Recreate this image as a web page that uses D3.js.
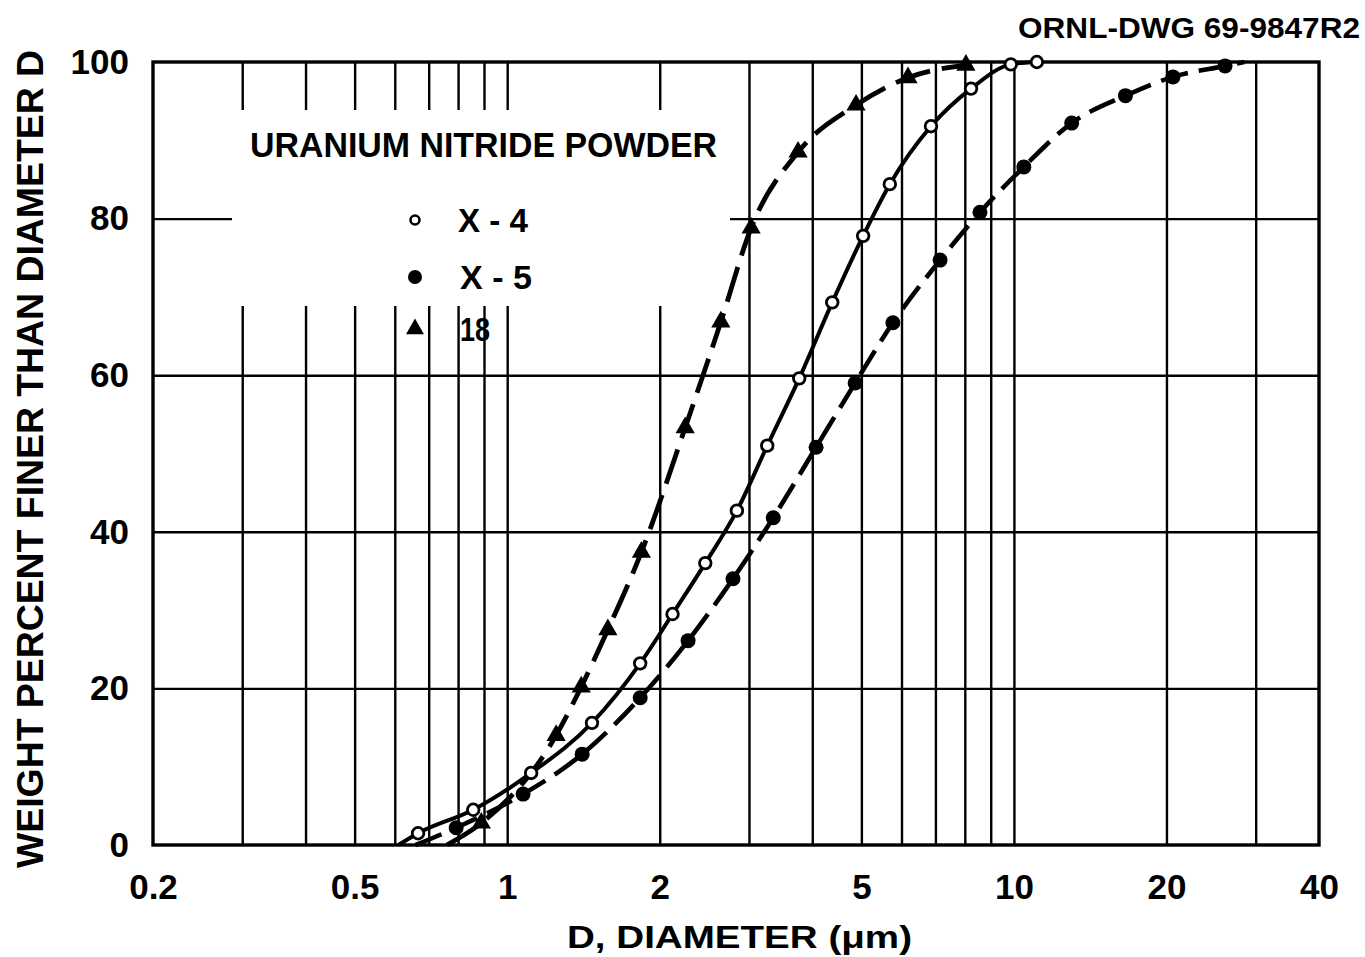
<!DOCTYPE html>
<html><head><meta charset="utf-8">
<script src="https://cdn.jsdelivr.net/npm/d3@7"></script>
<style>
html,body{margin:0;padding:0;background:#fff;}
svg{display:block;}
text{font-family:"Liberation Sans",Arial,sans-serif;font-weight:bold;fill:#000;}
</style></head>
<body>
<svg id="c" width="1365" height="957"></svg>
<script>
// ---- data ----
const xTickLabels = [0.2, 0.5, 1, 2, 5, 10, 20, 40];
const yTickLabels = [0, 20, 40, 60, 80, 100];
const xGrid = [0.3,0.4,0.5,0.6,0.7,0.8,0.9,1,2,3,4,5,6,7,8,9,10,20,30];
const yGrid = [20,40,60,80];

// X-4 (open circles)
const x4D = [0.667,0.857,1.115,1.47,1.83,2.12,2.46,2.84,3.26,3.77,4.38,5.04,5.69,6.86,8.23,9.86,11.1];
const x4W = [1.5,4.5,9.2,15.6,23.2,29.5,36.0,42.7,51.0,59.6,69.3,77.8,84.4,91.8,96.6,99.7,100];
const x4Start = [0.61, 0];

// X-5 (filled circles)
const x5D = [0.793,1.075,1.406,1.83,2.275,2.79,3.35,4.07,4.86,5.77,7.15,8.57,10.46,13.0,16.6,20.6,26.1];
const x5W = [2.2,6.5,11.6,18.8,26.1,34.0,41.8,50.8,59.0,66.7,74.7,80.8,86.6,92.2,95.7,98.1,99.5];
const x5Start = [0.66, 0];
const x5End = [28.5, 100];

// 18 (triangles)
const s18D = [0.889,1.249,1.40,1.58,1.84,2.245,2.64,3.03,3.75,4.88,6.18,8.04];
const s18W = [2.8,14.0,20.2,27.5,37.4,53.3,66.8,78.8,88.5,94.5,98.0,99.6];
const s18Start = [0.76, 0];

const legendTitle = "URANIUM NITRIDE POWDER";
const seriesNames = ["X-4", "X-5", "18"];
const drawingId = "ORNL-DWG 69-9847R2";
const xTitle = "D, DIAMETER  (\u03bcm)";
const yTitle = "WEIGHT PERCENT FINER THAN DIAMETER D";

// ---- scales ----
const svg = d3.select("#c");
const L = 153, R = 1319, T = 62, B = 845;
const x = d3.scaleLog().domain([0.2, 40]).range([L, R]);
const y = d3.scaleLinear().domain([0, 100]).range([B, T]);

// grid
const gx = svg.append("g").attr("transform", `translate(0,${B})`)
  .call(d3.axisBottom(x).tickValues(xGrid).tickSize(-(B - T)).tickFormat(""));
gx.select(".domain").remove();
gx.selectAll("line").attr("stroke", "#000").attr("stroke-width", 2.4);
const gy = svg.append("g").attr("transform", `translate(${L},0)`)
  .call(d3.axisLeft(y).tickValues(yGrid).tickSize(-(R - L)).tickFormat(""));
gy.select(".domain").remove();
gy.selectAll("line").attr("stroke", "#000").attr("stroke-width", 2.4);

// legend background (interrupts grid)
svg.append("rect").attr("x", 232).attr("y", 110).attr("width", 498).attr("height", 196).attr("fill", "#fff");

// frame
svg.append("rect").attr("x", L).attr("y", T).attr("width", R - L).attr("height", B - T)
  .attr("fill", "none").attr("stroke", "#000").attr("stroke-width", 3.4);

// axis labels
const ax = svg.append("g").attr("transform", `translate(0,${B})`)
  .call(d3.axisBottom(x).tickValues(xTickLabels).tickSize(0).tickPadding(29)
    .tickFormat(d => String(d)));
ax.select(".domain").remove();
ax.selectAll("text").style("font-size", "35px").attr("font-family", null);

const ay = svg.append("g").attr("transform", `translate(${L - 24},0)`)
  .call(d3.axisLeft(y).tickValues(yTickLabels).tickSize(0).tickPadding(0)
    .tickFormat(d => String(d)));
ay.select(".domain").remove();
ay.selectAll("text").style("font-size", "35px").attr("font-family", null);

// titles
svg.append("text").attr("x", 1360).attr("y", 38).attr("text-anchor", "end")
  .style("font-size", "29px").attr("textLength", 342).attr("lengthAdjust", "spacingAndGlyphs")
  .text(drawingId);
svg.append("text").attr("x", 567).attr("y", 948)
  .style("font-size", "32px").attr("textLength", 345).attr("lengthAdjust", "spacingAndGlyphs")
  .text(xTitle);
svg.append("text").attr("transform", "translate(43,459) rotate(-90)").attr("text-anchor", "middle")
  .style("font-size", "36px").attr("textLength", 818).attr("lengthAdjust", "spacingAndGlyphs")
  .text(yTitle);

// curves
const line = d3.line().x(d => x(d[0])).y(d => y(d[1])).curve(d3.curveMonotoneX);
const zip = (a, b) => a.map((v, i) => [v, b[i]]);
const x4 = zip(x4D, x4W), x5 = zip(x5D, x5W), s18 = zip(s18D, s18W);

svg.append("path").datum([x4Start, ...x4]).attr("d", line)
  .attr("fill", "none").attr("stroke", "#000").attr("stroke-width", 4);
svg.append("path").datum([x5Start, ...x5, x5End]).attr("d", line)
  .attr("fill", "none").attr("stroke", "#000").attr("stroke-width", 4.6)
  .attr("stroke-dasharray", "28,11");
svg.append("path").datum([s18Start, ...s18]).attr("d", line)
  .attr("fill", "none").attr("stroke", "#000").attr("stroke-width", 4.8)
  .attr("stroke-dasharray", "36,12");

// markers
svg.append("g").selectAll("circle").data(x5).join("circle")
  .attr("cx", d => x(d[0])).attr("cy", d => y(d[1])).attr("r", 7.5).attr("fill", "#000");
svg.append("g").selectAll("path").data(s18).join("path")
  .attr("transform", d => `translate(${x(d[0])},${y(d[1])})`)
  .attr("d", d3.symbol().type(d3.symbolTriangle).size(160)).attr("fill", "#000");
svg.append("g").selectAll("circle").data(x4).join("circle")
  .attr("cx", d => x(d[0])).attr("cy", d => y(d[1])).attr("r", 5.8)
  .attr("fill", "#fff").attr("stroke", "#000").attr("stroke-width", 2.8);

// legend
svg.append("text").attr("x", 250).attr("y", 157).style("font-size", "35px")
  .attr("textLength", 467).attr("lengthAdjust", "spacingAndGlyphs").text(legendTitle);
const legY = [220, 277, 329];
svg.append("circle").attr("cx", 415).attr("cy", legY[0]).attr("r", 4.5)
  .attr("fill", "#fff").attr("stroke", "#000").attr("stroke-width", 2.6);
svg.append("circle").attr("cx", 415).attr("cy", legY[1]).attr("r", 7).attr("fill", "#000");
svg.append("path").attr("transform", `translate(415,${legY[2]})`)
  .attr("d", d3.symbol().type(d3.symbolTriangle).size(140)).attr("fill", "#000");
const legX = [458, 460, 460], legW = [70, 72, 30];
seriesNames.forEach((n, i) => {
  svg.append("text").attr("x", legX[i]).attr("y", legY[i] + 12).style("font-size", "34px")
    .attr("textLength", legW[i]).attr("lengthAdjust", "spacingAndGlyphs").text(n.replace("-", " - "));
});
</script>
</body></html>
